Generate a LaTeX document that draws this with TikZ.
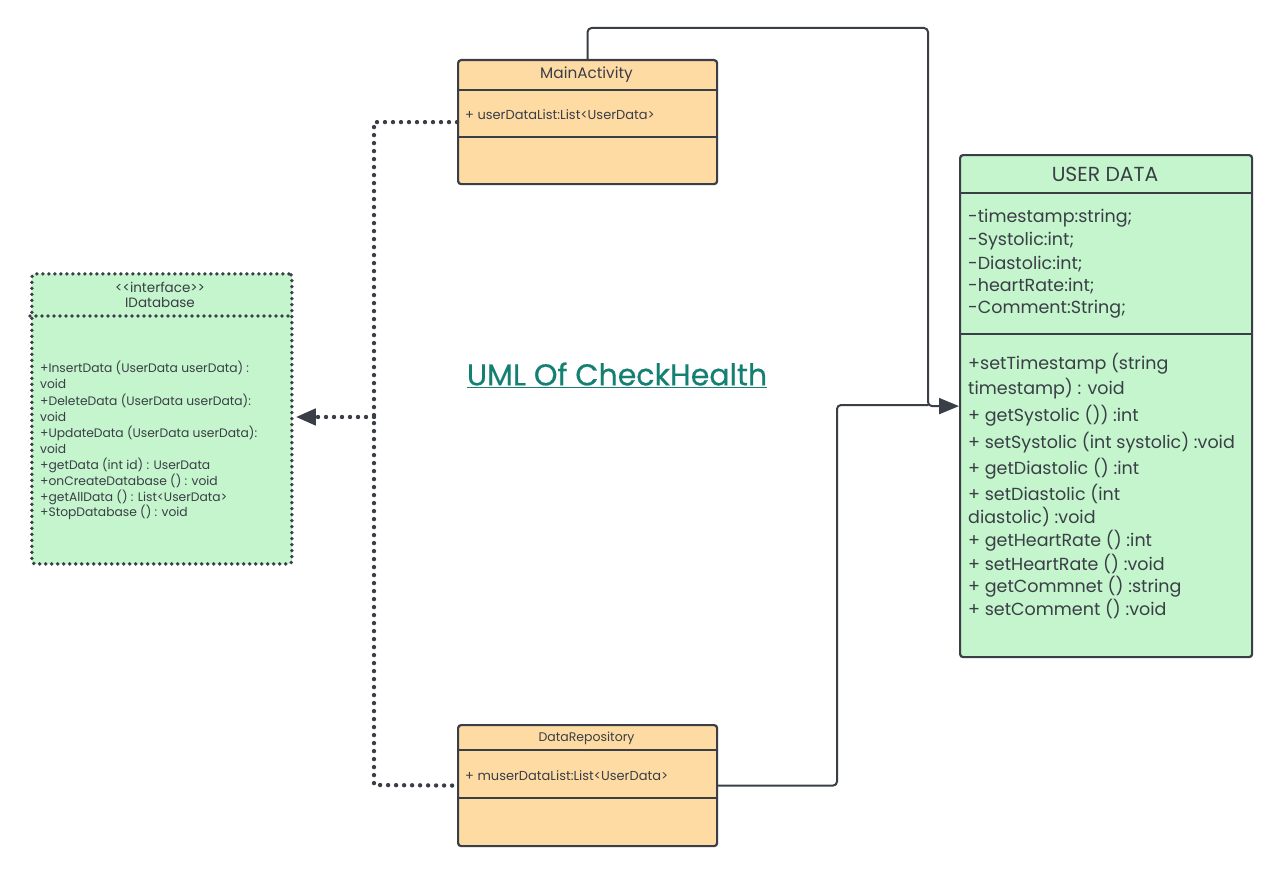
\documentclass[tikz,border=0pt]{standalone}
\usepackage{fontspec}
\setmainfont{Poppins}
\newfontfamily\titlefont[FakeBold=0.5]{Poppins}
\usetikzlibrary{arrows.meta,calc}
\definecolor{orangefill}{RGB}{255,219,164}
\definecolor{greenfill}{RGB}{196,245,205}
\definecolor{edge}{RGB}{58,62,70}
\definecolor{teal}{RGB}{20,128,114}
\tikzset{
  x=1pt,y=-1pt,
  classbox/.style={draw=edge, line width=2.2pt, rounded corners=3pt, inner sep=0pt, anchor=north west},
  sepline/.style={draw=edge, line width=2.2pt},
  conn/.style={draw=edge, line width=2pt, rounded corners=4pt},
  dotconn/.style={draw=edge, line width=4.4pt, line cap=round, dash pattern=on 0pt off 8pt},
  dotborder/.style={draw=edge, line width=3.8pt, line cap=round, dash pattern=on 0pt off 6pt},
  tip/.style={-{Triangle[length=20pt,width=16pt]}},
  txt/.style={text=edge, inner sep=0pt, anchor=west},
}
\begin{document}
\begin{tikzpicture}
\useasboundingbox[fill=white] (0,0) rectangle (1280,875);
% boxes
\node[classbox, fill=orangefill, minimum width=259pt, minimum height=124pt] (ma) at (457,59) {};
\node[classbox, fill=orangefill, minimum width=259pt, minimum height=121pt] (dr) at (457,724) {};
\node[classbox, fill=greenfill, minimum width=292pt, minimum height=502pt] (ud) at (959,154) {};
\node[dotborder, fill=greenfill, rounded corners=3pt, inner sep=0pt, anchor=north west, minimum width=260pt, minimum height=290pt] (idb) at (30,272) {};
% separators
\draw[sepline] (ma.west |- 0,90) -- (ma.east |- 0,90);
\draw[sepline] (ma.west |- 0,137) -- (ma.east |- 0,137);
\draw[sepline] (dr.west |- 0,750) -- (dr.east |- 0,750);
\draw[sepline] (dr.west |- 0,798) -- (dr.east |- 0,798);
\draw[sepline] (ud.west |- 0,193) -- (ud.east |- 0,193);
\draw[sepline] (ud.west |- 0,334) -- (ud.east |- 0,334);
\draw[dotborder] (idb.west |- 0,316) -- (idb.east |- 0,316);
% titles
\node[text=edge, inner sep=0pt, font=\fontsize{15.3}{17}\selectfont] (mat) at (586.5,75) {MainActivity};
\node[txt, font=\fontsize{13}{15}\selectfont] (maa) at (465,115) {+ userDataList:List<UserData>};
\node[text=edge, inner sep=0pt, font=\fontsize{12.5}{14}\selectfont] (drt) at (586.5,738) {DataRepository};
\node[txt, font=\fontsize{13}{15}\selectfont] (dra) at (465,776) {+ muserDataList:List<UserData>};
\node[text=edge, inner sep=0pt, font=\fontsize{20.3}{23}\selectfont] (udt) at (1105,174) {USER DATA};
\node[text=edge, inner sep=0pt, align=center, font=\fontsize{13.5}{15.5}\selectfont] (idbt) at (160,295) {<{}<interface>{}>\\IDatabase};
% USER DATA attributes
\foreach \yy/\t [count=\i] in {218/{-timestamp:string;},241/{-Systolic:int;},264/{-Diastolic:int;},286/{-heartRate:int;},309/{-Comment:String;}}
  \node[txt, font=\fontsize{17.5}{20}\selectfont] (uda\i) at (968,\yy) {\t};
% USER DATA methods
\foreach \yy/\t [count=\i] in {364/{+setTimestamp (string},389/{timestamp) : void},416/{+ getSystolic ()) :int},443/{+ setSystolic (int systolic) :void},469/{+ getDiastolic () :int},494/{+ setDiastolic (int},517/{diastolic) :void},541/{+ getHeartRate () :int},564/{+ setHeartRate () :void},587/{+ getCommnet () :string},609/{+ setComment () :void}}
  \node[txt, font=\fontsize{17.5}{20}\selectfont] (udm\i) at (968,\yy) {\t};
% IDatabase methods
\foreach \yy/\t [count=\i] in {368/{+InsertData (UserData userData) :},384/{void},401/{+DeleteData (UserData userData):},417/{void},433/{+UpdateData (UserData userData):},449/{void},465/{+getData (int id) : UserData},481/{+onCreateDatabase () : void},497/{+getAllData () : List<UserData>},512/{+StopDatabase () : void}}
  \node[txt, font=\fontsize{12.3}{14}\selectfont] (idm\i) at (40,\yy) {\t};
% title
\node[text=teal, inner sep=0pt, font=\titlefont\fontsize{30}{33}\selectfont] (title) at (617,375) {\underline{UML Of CheckHealth}};
% connectors
\coordinate (top) at (928,28);
\coordinate (join) at (928,405);
\coordinate (low) at (837,405);
\coordinate (dotx) at (374,417);
\draw[conn, tip] (ma.north) |- (top) |- (ud.west);
\draw[conn] (dr.east) -| (low) -- (join);
\draw[dotconn] (ma.west) -| (374,785) -- (dr.west);
\draw[dotconn, -{Triangle[length=20pt,width=16pt]}] (dotx) -- ($(idb.east |- dotx)+(2,0)$);
\end{tikzpicture}
\end{document}
